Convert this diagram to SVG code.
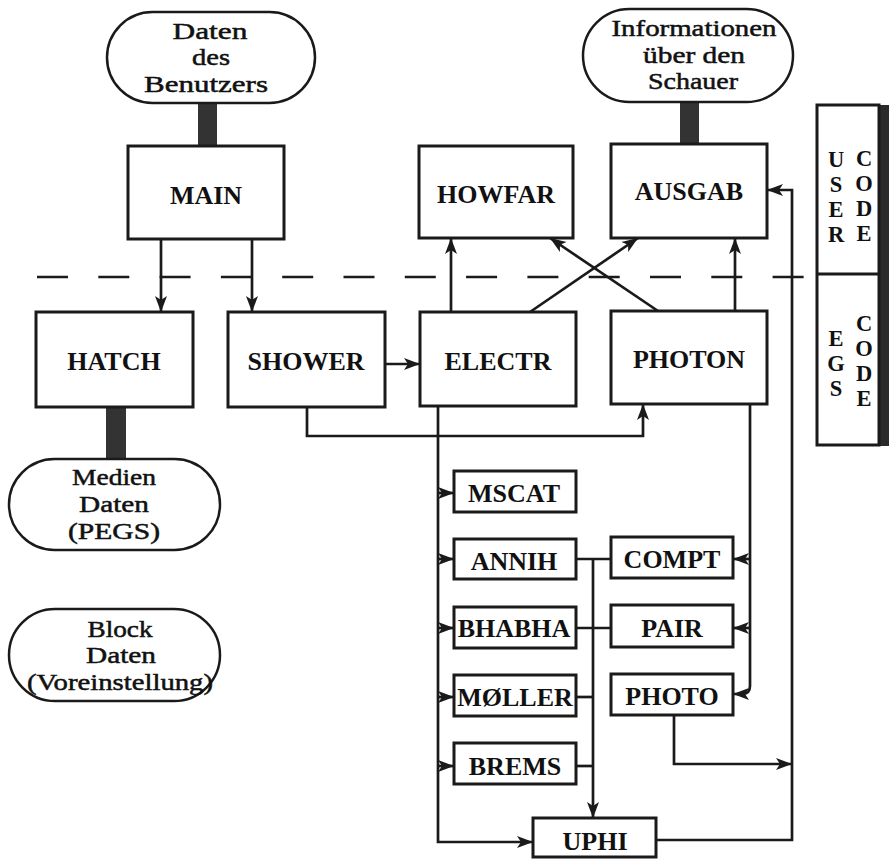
<svg xmlns="http://www.w3.org/2000/svg" width="889" height="859" viewBox="0 0 889 859">
<style>
  .box{fill:#fff;stroke:#1a1a1a;stroke-width:3}
  .term{fill:#fff;stroke:#1a1a1a;stroke-width:2.5}
  .lbl{font-family:"Liberation Serif","Times New Roman",serif;font-weight:bold;font-size:26px;fill:#111;text-anchor:middle}
  .tt{font-family:"Liberation Serif","Times New Roman",serif;font-size:23.5px;fill:#111;stroke:#111;stroke-width:0.5;text-anchor:middle}
  .pl{font-family:"Liberation Serif","Times New Roman",serif;font-weight:bold;font-size:22.5px;fill:#111;text-anchor:middle}
  .ln{fill:none;stroke:#1a1a1a;stroke-width:2.7}
  .arr{marker-end:url(#ah)}
  .data{fill:#333}
</style>
<defs>
  <marker id="ah" markerUnits="userSpaceOnUse" markerWidth="18" markerHeight="14" refX="16" refY="7" orient="auto">
    <path d="M0,1 L16,7 L0,13 L4,7 Z" fill="#1a1a1a"/>
  </marker>
</defs>

<!-- dashed separator -->
<line x1="37" y1="277" x2="804" y2="277" stroke="#1a1a1a" stroke-width="2.7" stroke-dasharray="31 30.3"/>

<!-- data connectors -->
<g id="data-links">
  <rect class="data" x="198" y="102" width="19" height="45"/>
  <rect class="data" x="680" y="101" width="19" height="44"/>
  <rect class="data" x="106" y="406" width="20" height="54"/>
</g>

<!-- connectors -->
<g id="connectors">
  <line class="ln arr" x1="161" y1="239" x2="161" y2="312"/>
  <line class="ln arr" x1="252" y1="239" x2="252" y2="312"/>
  <line class="ln arr" x1="385" y1="364" x2="420" y2="364"/>
  <path class="ln arr" d="M307,407 V436 H643 V404"/>
  <line class="ln arr" x1="451" y1="312" x2="451" y2="238"/>
  <line class="ln arr" x1="530" y1="312" x2="638" y2="238"/>
  <line class="ln arr" x1="658" y1="311" x2="550" y2="238"/>
  <line class="ln arr" x1="735" y1="311" x2="735" y2="238"/>
  <path class="ln arr" d="M438,406 V842 H533"/>
  <line class="ln arr" x1="438" y1="493" x2="454" y2="493"/>
  <line class="ln arr" x1="438" y1="559" x2="454" y2="559"/>
  <line class="ln arr" x1="438" y1="628" x2="454" y2="628"/>
  <line class="ln arr" x1="438" y1="697" x2="454" y2="697"/>
  <line class="ln arr" x1="438" y1="766" x2="454" y2="766"/>
  <path class="ln arr" d="M593,559 V818"/>
  <line class="ln" x1="576" y1="559" x2="611" y2="559"/>
  <line class="ln" x1="576" y1="628" x2="611" y2="628"/>
  <line class="ln" x1="576" y1="697" x2="593" y2="697"/>
  <line class="ln" x1="576" y1="766" x2="593" y2="766"/>
  <path class="ln arr" d="M750,404 V686 Q750,694 742,694 H733"/>
  <line class="ln arr" x1="750" y1="559" x2="733" y2="559"/>
  <line class="ln arr" x1="750" y1="628" x2="733" y2="628"/>
  <path class="ln arr" d="M674,715 V764 H792"/>
  <path class="ln arr" d="M656,840 H792 V190 H767"/>
</g>

<!-- terminals -->
<g id="daten-benutzer">
  <rect class="term" x="107" y="12" width="208" height="91" rx="45.5"/>
  <text class="tt" x="210" y="39" textLength="75" lengthAdjust="spacingAndGlyphs">Daten</text>
  <text class="tt" x="211" y="65" textLength="38" lengthAdjust="spacingAndGlyphs">des</text>
  <text class="tt" x="206" y="92" textLength="124" lengthAdjust="spacingAndGlyphs">Benutzers</text>
</g>
<g id="informationen">
  <rect class="term" x="583" y="9" width="210" height="93" rx="46.5"/>
  <text class="tt" x="694" y="36" textLength="165" lengthAdjust="spacingAndGlyphs">Informationen</text>
  <text class="tt" x="694" y="63" textLength="102" lengthAdjust="spacingAndGlyphs">über den</text>
  <text class="tt" x="693" y="89" textLength="90" lengthAdjust="spacingAndGlyphs">Schauer</text>
</g>
<g id="medien-daten">
  <rect class="term" x="9" y="459" width="211" height="91" rx="45.5"/>
  <text class="tt" x="114" y="485" textLength="84" lengthAdjust="spacingAndGlyphs">Medien</text>
  <text class="tt" x="114" y="512" textLength="70" lengthAdjust="spacingAndGlyphs">Daten</text>
  <text class="tt" x="114" y="539" textLength="92" lengthAdjust="spacingAndGlyphs">(PEGS)</text>
</g>
<g id="block-daten">
  <rect class="term" x="9" y="609" width="211" height="92" rx="46"/>
  <text class="tt" x="120" y="637" textLength="65" lengthAdjust="spacingAndGlyphs">Block</text>
  <text class="tt" x="121" y="663" textLength="70" lengthAdjust="spacingAndGlyphs">Daten</text>
  <text class="tt" x="120" y="690" textLength="186" lengthAdjust="spacingAndGlyphs">(Voreinstellung)</text>
</g>

<!-- boxes -->
<g id="main"><rect class="box" x="128" y="146" width="156" height="93"/><text class="lbl" x="206" y="204">MAIN</text></g>
<g id="howfar"><rect class="box" x="419" y="146" width="154" height="92"/><text class="lbl" x="496" y="203">HOWFAR</text></g>
<g id="ausgab"><rect class="box" x="611" y="144" width="156" height="94"/><text class="lbl" x="689" y="200">AUSGAB</text></g>
<g id="hatch"><rect class="box" x="36" y="312" width="157" height="95"/><text class="lbl" x="114" y="370">HATCH</text></g>
<g id="shower"><rect class="box" x="228" y="312" width="157" height="95"/><text class="lbl" x="306" y="370">SHOWER</text></g>
<g id="electr"><rect class="box" x="420" y="312" width="156" height="94"/><text class="lbl" x="498" y="370">ELECTR</text></g>
<g id="photon"><rect class="box" x="611" y="311" width="156" height="93"/><text class="lbl" x="689" y="368">PHOTON</text></g>
<g id="mscat"><rect class="box" x="454" y="471" width="122" height="41"/><text class="lbl" x="514" y="502">MSCAT</text></g>
<g id="annih"><rect class="box" x="454" y="539" width="122" height="40"/><text class="lbl" x="514" y="570">ANNIH</text></g>
<g id="bhabha"><rect class="box" x="454" y="607" width="122" height="41"/><text class="lbl" x="514" y="637">BHABHA</text></g>
<g id="moller"><rect class="box" x="454" y="675" width="122" height="41"/><text class="lbl" x="515" y="706">MØLLER</text></g>
<g id="brems"><rect class="box" x="454" y="743" width="122" height="41"/><text class="lbl" x="515" y="775">BREMS</text></g>
<g id="compt"><rect class="box" x="611" y="537" width="122" height="41"/><text class="lbl" x="672" y="568">COMPT</text></g>
<g id="pair"><rect class="box" x="611" y="605" width="122" height="42"/><text class="lbl" x="672" y="637">PAIR</text></g>
<g id="photo"><rect class="box" x="611" y="674" width="122" height="41"/><text class="lbl" x="672" y="705">PHOTO</text></g>
<g id="uphi"><rect class="box" x="533" y="818" width="123" height="39"/><text class="lbl" x="595" y="850">UPHI</text></g>

<!-- code panel -->
<g id="code-panel">
  <rect x="879" y="105" width="10" height="341" fill="#2a2a2a"/>
  <rect class="box" x="817" y="105" width="62" height="340"/>
  <line x1="817" y1="274" x2="879" y2="274" stroke="#1a1a1a" stroke-width="3"/>
  <text class="pl" x="836" y="167">U</text>
  <text class="pl" x="836" y="192">S</text>
  <text class="pl" x="836" y="217">E</text>
  <text class="pl" x="836" y="242">R</text>
  <text class="pl" x="864" y="166">C</text>
  <text class="pl" x="864" y="191">O</text>
  <text class="pl" x="864" y="216">D</text>
  <text class="pl" x="864" y="241">E</text>
  <text class="pl" x="836" y="346">E</text>
  <text class="pl" x="836" y="371">G</text>
  <text class="pl" x="836" y="396">S</text>
  <text class="pl" x="864" y="331">C</text>
  <text class="pl" x="864" y="356">O</text>
  <text class="pl" x="864" y="381">D</text>
  <text class="pl" x="864" y="406">E</text>
</g>
</svg>
